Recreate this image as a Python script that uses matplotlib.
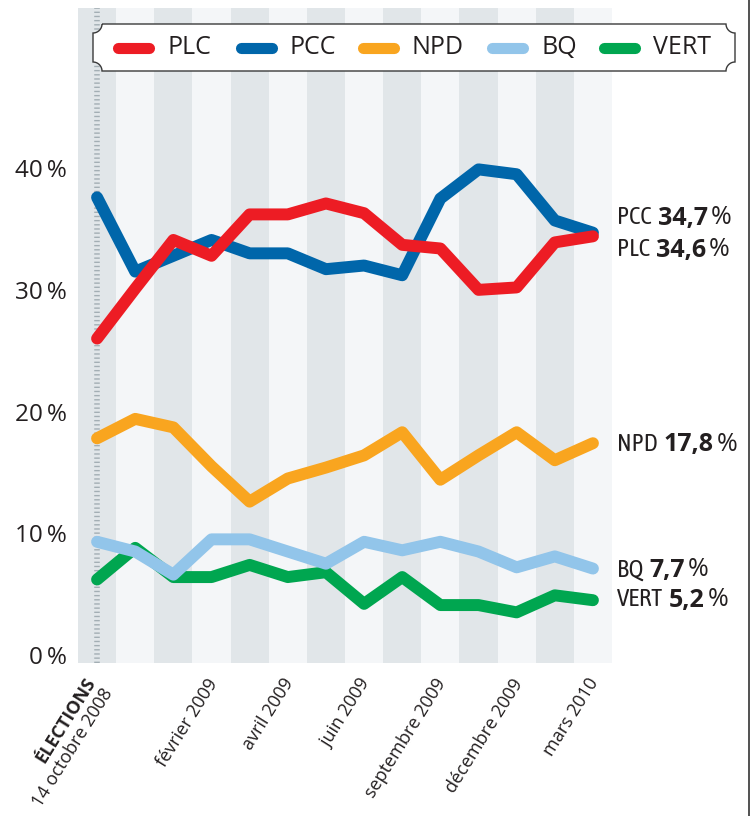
import numpy as np
import matplotlib
matplotlib.use("Agg")
import matplotlib.pyplot as plt
from matplotlib.path import Path
from matplotlib.patches import PathPatch
from matplotlib.lines import Line2D

# poll results (%), one point per stripe
plc = [26.0, 30.1, 34.1, 32.8, 36.2, 36.2, 37.1, 36.3, 33.7, 33.4, 30.0, 30.2, 33.9, 34.4]
pcc = [37.6, 31.5, 32.8, 34.1, 33.0, 33.0, 31.7, 32.0, 31.2, 37.5, 39.9, 39.5, 35.7, 34.7]
npd = [17.8, 19.4, 18.7, 15.5, 12.6, 14.5, 15.4, 16.4, 18.3, 14.4, 16.4, 18.3, 16.0, 17.4]
bq = [9.3, 8.5, 6.6, 9.5, 9.5, 8.5, 7.5, 9.3, 8.6, 9.3, 8.5, 7.2, 8.1, 7.1]
vert = [6.2, 8.8, 6.4, 6.4, 7.4, 6.4, 6.8, 4.2, 6.4, 4.1, 4.1, 3.5, 4.9, 4.5]

parties = ["PLC", "PCC", "NPD", "BQ", "VERT"]
colors = ["#ED1C24", "#0066AA", "#F9A51F", "#92C5EA", "#00A650"]

tick_idx = [3, 5, 7, 9, 11, 13]
tick_labels = ["février 2009", "avril 2009", "juin 2009", "septembre 2009",
               "décembre 2009", "mars 2010"]

# latest values shown at right
end_names = ["PCC", "PLC", "NPD", "BQ", "VERT"]
end_values = ["34,7", "34,6", "17,8", "7,7", "5,2"]

W, H = 753, 816
plt.rcParams['lines.scale_dashes'] = False
plt.rcParams['font.family'] = ['Open Sans', 'DejaVu Sans']
text_col = "#231F20"

fig = plt.figure(figsize=(W / 100, H / 100), dpi=100)
ax = fig.add_axes([78 / W, 1 - 663 / H, (612 - 78) / W, (663 - 8) / H])

def px(x, y):
    return x / W, 1 - y / H

n = len(plc)
x = np.arange(n)

# background stripes
for i in range(n):
    ax.axvspan(i - 0.5, i + 0.5, color="#E1E6E9" if i % 2 == 0 else "#F4F6F8",
               lw=0, zorder=0)
ax.axvline(0, color="#A3AEB4", lw=4, dashes=(1, 2), zorder=1)

series = [plc, pcc, npd, bq, vert]
for vals, c in reversed(list(zip(series, colors))):
    ax.plot(x, vals, color=c, lw=8.6, solid_capstyle='round',
            solid_joinstyle='round', zorder=3)

ax.set_xlim(-0.5, n - 0.5)
ax.set_ylim(-0.66, 53.16)
ax.set_yticks([0, 10, 20, 30, 40])
ax.set_yticklabels([f"{v}\u2009%" for v in [0, 10, 20, 30, 40]],
                   fontsize=17.5, color=text_col)
ax.tick_params(axis='y', length=0, pad=8)
ax.set_xticks([])
for s in ax.spines.values():
    s.set_visible(False)

# x labels (rotated)
def xlab(i, txt, dx, ypx, **kw):
    xd = ax.transData.transform((i, 0))[0] + dx
    fig.text(xd / W, 1 - ypx / H, txt, rotation=58, rotation_mode='anchor',
             ha='right', va='center', fontsize=13, color=text_col, **kw)

for i, t in zip(tick_idx, tick_labels):
    xlab(i, t, 2, 680)
xlab(0, "ÉLECTIONS", -5, 679, fontweight='bold')
xlab(0, "14 octobre 2008", 12, 690)

# legend box with notched corners
x0, x1, y0, y1, r = 93, 735, 24, 71, 9
t = np.linspace(0, np.pi / 2, 12)
pts = [(x0 + r, y0), (x1 - r, y0)]
pts += [(x1 - r * np.cos(a), y0 + r * np.sin(a)) for a in t]
pts += [(x1 - r * np.sin(a), y1 - r * np.cos(a)) for a in t]
pts += [(x0 + r * np.cos(a), y1 - r * np.sin(a)) for a in t]
pts += [(x0 + r * np.sin(a), y0 + r * np.cos(a)) for a in t]
pts.append((x0 + r, y0))
verts = [px(a, b) for a, b in pts]
fig.patches.append(PathPatch(Path(verts), transform=fig.transFigure,
                             facecolor="white", edgecolor="#3A3A3A", lw=1.0, zorder=5))

leg_x = [112, 235, 357, 486, 598]
for lx, name, c in zip(leg_x, parties, colors):
    fig.add_artist(Line2D([px(lx + 6, 0)[0], px(lx + 37, 0)[0]], [px(0, 48)[1]] * 2,
                          transform=fig.transFigure, color=c, lw=8,
                          solid_capstyle='round', zorder=6))
    fig.text(*px(lx + 55, 48), name, fontsize=18, color=text_col,
             va='center', ha='left', zorder=7)

# end labels: condensed name, bold value, then %
fig.canvas.draw()
rend = fig.canvas.get_renderer()
end_y = [218, 250, 445, 570, 600]
for name, val, yy in zip(end_names, end_values, end_y):
    t1 = fig.text(*px(617, yy), name, color=text_col, va='center', fontsize=18,
                  family=['Asap Condensed', 'DejaVu Sans'], fontweight='normal')
    bb = t1.get_window_extent(rend)
    t2 = fig.text(bb.x1 / W + 6 / W, 1 - yy / H, val, fontsize=18, color=text_col,
                  va='center', fontweight='bold')
    bb2 = t2.get_window_extent(rend)
    fig.text(bb2.x1 / W + 3 / W, 1 - yy / H, "%", fontsize=18, color=text_col,
             va='center')

# right frame line
fig.add_artist(Line2D([749 / W] * 2, [0, 1], transform=fig.transFigure,
                      color="#333333", lw=1.2))

fig.savefig("out.png", dpi=100)
